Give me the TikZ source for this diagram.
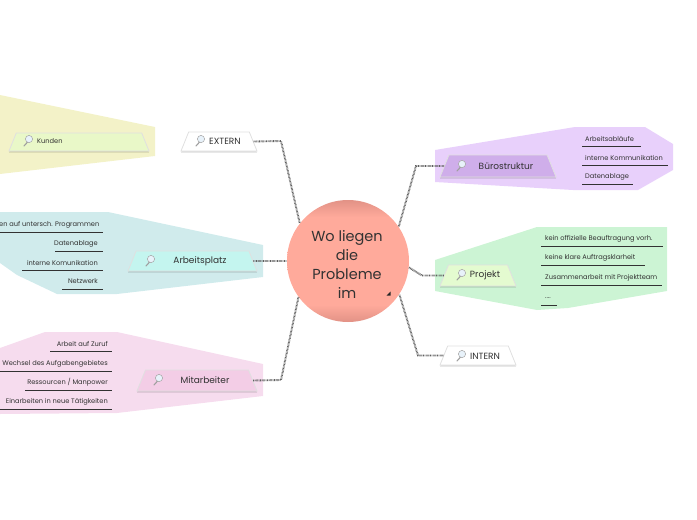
\documentclass[tikz,border=0pt]{standalone}
\usepackage{fontspec}
\usepackage{xcolor}
\usetikzlibrary{shapes.geometric, shadows}
\setmainfont{Poppins}
\definecolor{rootsalmon}{RGB}{255,170,155}
\definecolor{rootdark}{RGB}{226,146,134}
\definecolor{linkgrey}{RGB}{95,95,95}
\definecolor{textdark}{RGB}{50,50,50}
\definecolor{blobyellow}{RGB}{243,242,200}
\definecolor{blobteal}{RGB}{208,235,236}
\definecolor{blobpink}{RGB}{246,220,238}
\definecolor{blobviolet}{RGB}{232,208,251}
\definecolor{blobgreen}{RGB}{204,244,212}
\definecolor{boxlime}{RGB}{233,248,200}
\definecolor{boxteal}{RGB}{196,245,239}
\definecolor{boxpink}{RGB}{243,205,230}
\definecolor{boxviolet}{RGB}{207,174,234}
\definecolor{boxgreen}{RGB}{228,251,208}
\definecolor{lensblue}{RGB}{232,242,250}
\pgfdeclareverticalshading{rootshade}{100bp}{
  color(0bp)=(rootdark); color(25bp)=(rootdark); color(32bp)=(rootsalmon);
  color(68bp)=(rootsalmon); color(75bp)=(rootdark); color(100bp)=(rootdark)}
\def\linkStroke{1.9pt}
\def\leafStroke{0.8pt}

\tikzset{
  topicbox/.style={trapezium, trapezium stretches body=true, trapezium left angle=68,
    trapezium right angle=68, draw=white!88!black, line width=0.8pt, inner sep=0pt,
    drop shadow={shadow xshift=0pt, shadow yshift=-1.6pt, opacity=0.14, fill=black}},
  topiclabel/.style={font=\fontsize{9}{11}\selectfont, text=textdark, inner sep=0pt},
  leaflabel/.style={font=\fontsize{6.65}{8}\selectfont, text=textdark, inner sep=0pt},
  linkline/.style={draw=linkgrey, line width=\linkStroke, dash pattern=on 0.7pt off 0.7pt},
  leafline/.style={draw=textdark, line width=\leafStroke},
}

% Helper macros for the box height, the lens icon and the leaf entries
\newcommand{\boxStrut}[1]{\phantom{\rule{1pt}{#1pt}}}
\newcommand{\lensIcon}[2]{%
  \draw[linkgrey!60, line width=1.1pt, line cap=round] (#1-1.6, #2+3.2) -- (#1-5, #2+7);
  \draw[linkgrey!55, fill=lensblue, line width=0.5pt] (#1, #2) circle (3.6);
}
\newcommand{\leafRight}[6]{% name, text right, text y, line left, line right, text
  \node[leaflabel, anchor=east] (#1) at (#2, #3) {#6};
  \draw[leafline] (#4, #3+7.5) -- (#5, #3+7.5);
}
\newcommand{\leafLeft}[6]{% name, text left, text y, line left, line right, text
  \node[leaflabel, anchor=west] (#1) at (#2, #3) {#6};
  \draw[leafline] (#4, #3+7) -- (#5, #3+7);
}

\begin{document}
\begin{tikzpicture}[x=1pt, y=-1pt]
\useasboundingbox (0,0) rectangle (697,520);

% Blobs behind the branches
\fill[blobyellow] (0,95) -- (155,127) -- (155,156) -- (0,174) -- cycle;
\fill[blobteal] (0,212) -- (108,212) -- (263,245) -- (263,277) -- (117,294)
  -- (57,294) -- (17,275) -- (0,263) -- cycle;
\fill[blobpink] (0,348) -- (45,332) -- (117,332) -- (263,364) -- (263,396)
  -- (117,413) -- (0,414) -- cycle;
\fill[blobviolet] (435,150) -- (575,127) -- (645,127) -- (673,144) -- (673,170)
  -- (638,190) -- (573,190) -- (435,182) -- cycle;
\fill[blobgreen] (435,260) -- (537,227) -- (667,227) -- (667,291) -- (568,308)
  -- (537,310) -- (435,291) -- cycle;

% Centre
\node[circle, minimum size=122pt, inner sep=0pt, shading=rootshade] (root) at (348,261) {};
\node[font=\fontsize{14.5}{19}\selectfont, text=textdark, align=center, inner sep=0pt]
  (roottext) at (347,264.5) {Wo liegen\\die\\Probleme\\im};
\fill[black!85] (390.5,291.5) -- (390.5,295.5) -- (386.5,295.5) -- cycle;

% Branch boxes
\node[topicbox, fill=white, minimum width=76pt] (extern) at (219,141.5) {\boxStrut{19}};
\node[topicbox, fill=boxlime, minimum width=140pt] (kunden) at (79,142) {\boxStrut{18}};
\node[topicbox, fill=boxteal, minimum width=129pt] (arbeitsplatz) at (192.5,261) {\boxStrut{20}};
\node[topicbox, fill=boxpink, minimum width=120pt] (mitarbeiter) at (197,380.5) {\boxStrut{21}};
\node[topicbox, fill=boxviolet, minimum width=116pt] (buero) at (498,166) {\boxStrut{22}};
\node[topicbox, fill=boxgreen, minimum width=76pt] (projekt) at (478,275.5) {\boxStrut{21}};
\node[topicbox, fill=white, minimum width=76pt] (intern) at (478,355.5) {\boxStrut{19}};

% Links
\coordinate (externbend) at (281,141);
\coordinate (mitarbeiterbend) at (281,380);
\coordinate (buerobend) at (416,166);
\coordinate (projektbend) at (422,275.5);
\coordinate (internbend) at (418,355.5);
\draw[linkline] (extern.east) -- (externbend) -- (root.142);
\draw[linkline] (arbeitsplatz.east) -- (root.180);
\draw[linkline] (mitarbeiter.east) -- (mitarbeiterbend) -- (root.216);
\draw[linkline] (buero.west) -- (buerobend) -- (root.34);
\draw[linkline] (projekt.west) -- (projektbend) -- (root.354);
\draw[linkline] (intern.west) -- (internbend) -- (root.327);

% Box texts and icons
\node[topiclabel, anchor=west] (externtext) at (209,141.5) {EXTERN};
\node[leaflabel, anchor=west] (kundentext) at (37,141.5) {Kunden};
\node[topiclabel] (arbeitsplatztext) at (200,261) {Arbeitsplatz};
\node[topiclabel] (mitarbeitertext) at (205,380.5) {Mitarbeiter};
\node[topiclabel] (buerotext) at (506,166) {Bürostruktur};
\node[topiclabel] (projekttext) at (485,275.5) {Projekt};
\node[topiclabel] (interntext) at (485,356) {INTERN};
\foreach \lx/\ly in {29/139, 201/139, 151/259, 159/378, 462/164, 462/273, 462/354} {
  \lensIcon{\lx}{\ly}
}

% Leaves of Arbeitsplatz
\leafRight{arbA}{99.5}{224.5}{0}{103}{en auf untersch. Programmen}
\leafRight{arbB}{98}{243.5}{55}{103}{Datenablage}
\leafRight{arbC}{98}{262.5}{22}{103}{interne Komunikation}
\leafRight{arbD}{98}{281.5}{62}{103}{Netzwerk}

% Leaves of Mitarbeiter
\leafRight{mitA}{108}{344}{50}{112}{Arbeit auf Zuruf}
\leafRight{mitB}{108}{363.5}{0}{112}{Wechsel des Aufgabengebietes}
\leafRight{mitC}{108}{382.5}{25}{112}{Ressourcen / Manpower}
\leafRight{mitD}{108}{401.5}{0}{112}{Einarbeiten in neue Tätigkeiten}

% Leaves of Bürostruktur
\leafLeft{bueA}{585}{139}{582}{641}{Arbeitsabläufe}
\leafLeft{bueB}{585}{158}{582}{668}{interne Kommunikation}
\leafLeft{bueC}{585}{177}{582}{633}{Datenablage}

% Leaves of Projekt
\leafLeft{proA}{545}{239}{541}{663}{kein offizielle Beauftragung vorh.}
\leafLeft{proB}{545}{258}{541}{645}{keine klare Auftragsklarheit}
\leafLeft{proC}{545}{278}{541}{662}{Zusammenarbeit mit Projektteam}
\leafLeft{proD}{545}{298}{541}{557}{....}

\end{tikzpicture}
\end{document}
